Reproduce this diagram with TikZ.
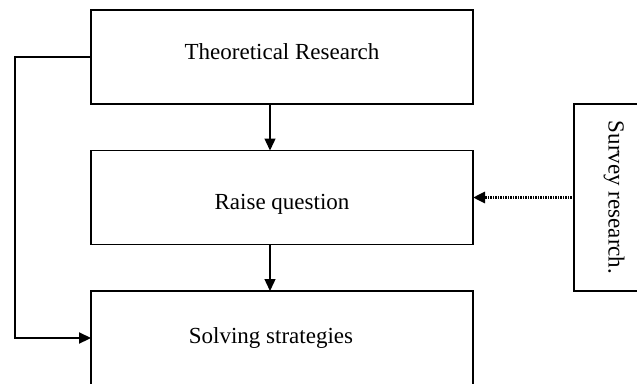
\documentclass[tikz,border=0pt]{standalone}
\usepackage{fontspec}
\setmainfont{Liberation Serif}
\usetikzlibrary{arrows.meta}

\begin{document}
\begin{tikzpicture}[x=1pt, y=-1pt,
		every node/.style = {
			draw, rectangle, line width=1.8pt,
			minimum width=382pt,
			minimum height=94pt,
			outer sep=0pt, inner sep=0pt,
			font=\fontsize{23}{27}\selectfont
		},
		arrow/.style = {-{Triangle[length=12pt,width=11pt]}, line width=1.4pt}
		]
		\clip (0,0) rectangle (637,383);
		\node (theory) at (282,57) {\raisebox{-2pt}[0pt][0pt]{Theoretical Research}};
		\node (question) at (282,197.5) {\raisebox{-12pt}[0pt][0pt]{Raise question}};
		\node (solve) at (282,338) {\hspace*{-22pt}Solving strategies};
		\node[rotate=-90, minimum width=187pt, minimum height=80pt] (survey) at (614,197.5) {Survey research.};
		
		\draw[arrow] ([xshift=-12pt]theory.south) -- ([xshift=-12pt]question.north);
		\draw[arrow] ([xshift=-12pt]question.south) -- ([xshift=-12pt]solve.north);
		\draw[arrow, line width=2.2pt] (theory.west) -- ++(-76,0) |- (solve.west);
		\draw[arrow, dash pattern=on 1.5pt off 1pt, line width=3pt] (survey.south) -- (question.east);
	\end{tikzpicture}
\end{document}
